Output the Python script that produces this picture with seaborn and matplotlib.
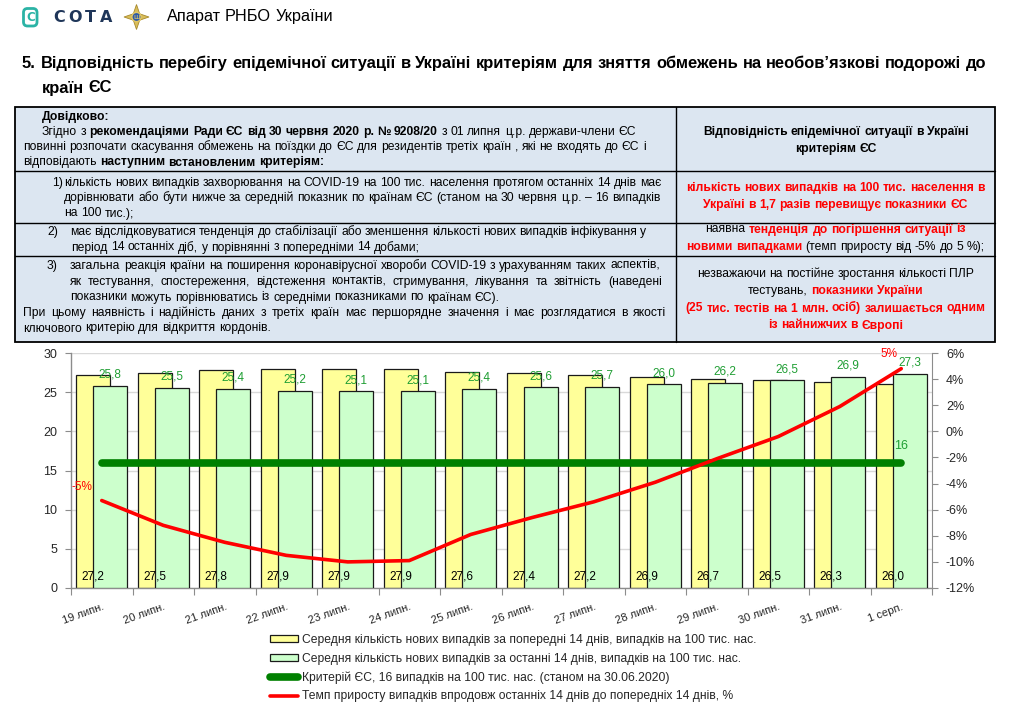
import numpy as np
import pandas as pd
import matplotlib
matplotlib.use("Agg")
import matplotlib.pyplot as plt
import seaborn as sns
from matplotlib.patches import Rectangle, FancyBboxPatch, Polygon, Circle
from matplotlib.ticker import FuncFormatter

# ------------------------------------------------------------------ data
dates = ["19 липн.", "20 липн.", "21 липн.", "22 липн.", "23 липн.", "24 липн.", "25 липн.",
         "26 липн.", "27 липн.", "28 липн.", "29 липн.", "30 липн.", "31 липн.", "1 серп."]
prev_14d = [27.2, 27.5, 27.8, 27.9, 27.9, 27.9, 27.6, 27.4, 27.2, 26.9, 26.7, 26.5, 26.3, 26.0]
last_14d = [25.8, 25.5, 25.4, 25.2, 25.1, 25.1, 25.4, 25.6, 25.7, 26.0, 26.2, 26.5, 26.9, 27.3]
eu_criterion = [16, 16, 16, 16, 16, 16, 16, 16, 16, 16, 16, 16, 16, 16]
growth_pct = [-5.3, -7.2, -8.5, -9.5, -10.0, -9.9, -7.9, -6.6, -5.4, -3.9, -2.1, -0.4, 1.9, 4.8]
growth_first_label = "-5%"
growth_last_label = "5%"
criterion_label = "16"
legend_labels = [
    "Середня кількість нових випадків за попередні 14 днів, випадків на 100 тис. нас.",
    "Середня кількість нових випадків за останні 14 днів, випадків на 100 тис. нас.",
    "Критерій ЄС, 16 випадків на 100 тис. нас. (станом на 30.06.2020)",
    "Темп приросту випадків впродовж останніх 14 днів до попередніх 14 днів, %",
]

# ------------------------------------------------------------------ setup
W, H = 1013, 713
sns.set_style("ticks")
FONT = ["Liberation Sans", "DejaVu Sans"]
plt.rcParams["font.family"] = FONT

fig = plt.figure(figsize=(W / 100, H / 100), dpi=100)
fig.patch.set_facecolor("white")
bg = fig.add_axes([0, 0, 1, 1])
bg.set_xlim(0, W)
bg.set_ylim(H, 0)
bg.axis("off")
renderer = fig.canvas.get_renderer()

RED = "#FF0000"
_wc = {}


def tw(s, size, bold, family=None):
    key = (s, size, bold, str(family))
    if key not in _wc:
        t = bg.text(0, 0, s, fontsize=size, fontweight="bold" if bold else "normal",
                    family=family or FONT)
        _wc[key] = t.get_window_extent(renderer).width
        t.remove()
    return _wc[key]


def space_w(size, bold=False):
    return tw("x x", size, bold) - tw("xx", size, bold)


def toks(segs):
    out = []
    for text, st in segs:
        for w in text.split():
            out.append((w, st))
    return out


def natural_width(segs, size):
    tk = toks(segs)
    return sum(tw(w, size, st != "n") for w, st in tk) + space_w(size) * (len(tk) - 1)


def rich(x, y, segs, size, mode="left", right=None):
    tk = toks(segs)
    ws = [tw(w, size, st != "n") for w, st in tk]
    sp = space_w(size)
    total = sum(ws) + sp * (len(tk) - 1)
    gap = sp
    if mode == "center":
        x0 = x - total / 2
    elif mode == "justify" and len(tk) > 1:
        x0 = x
        gap = (right - x - sum(ws)) / (len(tk) - 1)
    else:
        x0 = x
    cx = x0
    for (w, st), wd in zip(tk, ws):
        bg.text(cx, y, w, fontsize=size, fontweight="normal" if st == "n" else "bold",
                color=RED if st == "r" else "black", va="baseline", ha="left", family=FONT)
        cx += wd + gap


# ------------------------------------------------------------------ header
bg.add_patch(FancyBboxPatch((23.5, 8.5), 13.5, 17.5, boxstyle="round,pad=0,rounding_size=4",
                            fill=False, edgecolor="#2bb3a5", lw=2.0))
bg.text(30.3, 17.5, "С", fontsize=8.5, fontweight="bold", color="#2bb3a5",
        ha="center", va="center", family=["DejaVu Sans"])
letters = "СОТА"
lsz = 11.5
lw_ = [tw(c, lsz, True, ["DejaVu Sans"]) for c in letters]
lgap = (59 - sum(lw_)) / 3
cx = 53
for c, wd in zip(letters, lw_):
    bg.text(cx, 22.5, c, fontsize=lsz, fontweight="bold", color="#1f3659",
            ha="left", va="baseline", family=["DejaVu Sans"])
    cx += wd + lgap
# emblem
ccx, ccy = 136.5, 17
pts = []
for k in range(8):
    ang = np.pi / 2 + k * np.pi / 4
    r = 12.5 if k % 2 == 0 else 4.5
    pts.append((ccx + r * np.cos(ang), ccy - r * np.sin(ang)))
bg.add_patch(Polygon(pts, closed=True, facecolor="#d8bd5a", edgecolor="#a8892c", lw=0.6))
bg.add_patch(Circle((ccx, ccy), 4.6, facecolor="#2d59a8", edgecolor="#e2c766", lw=1.0))
bg.text(ccx, ccy + 0.3, "ш", fontsize=5, color="#f0d36a", ha="center", va="center",
        family=["DejaVu Sans"])
hs = 10 * 166 / natural_width([("Апарат РНБО України", "n")], 10)
rich(166.5, 21, [("Апарат РНБО України", "n")], hs)

# ------------------------------------------------------------------ title
t1 = [("5. Відповідність перебігу епідемічної ситуації в Україні критеріям для зняття "
       "обмежень на необов’язкові подорожі до", "b")]
ts = 10 * 971 / natural_width(t1, 10)
rich(22, 68, t1, ts)
rich(42, 92.5, [("країн ЄС", "b")], ts)

# ------------------------------------------------------------------ table
TL, TR, TT, TB, TC = 15, 995, 107, 342, 676
bg.add_patch(Rectangle((TL, TT), TR - TL, TB - TT, facecolor="#dce6f1",
                       edgecolor="black", lw=1.3, zorder=0))
for yy in (171, 223, 255.5):
    bg.plot([TL, TR], [yy, yy], color="black", lw=1.0, zorder=1)
bg.plot([TC, TC], [TT, TB], color="black", lw=1.0, zorder=1)

ref_line = [("повинні розпочати скасування обмежень на поїздки до ЄС для резидентів третіх "
             "країн , які не входять до ЄС і", "n")]
fs = 10 * 623 / natural_width(ref_line, 10)

left_lines = [
    (42, 120, [("Довідково:", "b")], "left", None),
    (42, 135, [("Згідно з", "n"), ("рекомендаціями Ради ЄС від 30 червня 2020 р. № 9208/20", "b"),
               ("з 01 липня ц.р. держави-члени ЄС", "n")], "left", None),
    (23, 150, ref_line, "left", None),
    (23, 165.5, [("відповідають", "n"), ("наступним встановленим критеріям:", "b")], "left", None),
    (52, 186, [("1)", "n")], "left", None),
    (64, 186, [("кількість нових випадків захворювання на COVID-19 на 100 тис. населення "
                "протягом останніх 14 днів має", "n")], "justify", 661.5),
    (64, 201, [("дорівнювати або бути нижче за середній показник по країнам ЄС (станом на "
                "30 червня ц.р. – 16 випадків", "n")], "justify", 660),
    (64, 216.5, [("на 100 тис.);", "n")], "left", None),
    (47, 235, [("2)", "n")], "left", None),
    (70, 235, [("має відслідковуватися тенденція до стабілізації або зменшення кількості нових "
                "випадків інфікування у", "n")], "justify", 646.5),
    (71, 250.5, [("період 14 останніх діб, у порівнянні з попередніми 14 добами;", "n")],
     "left", None),
    (47, 269, [("3)", "n")], "left", None),
    (70, 269, [("загальна реакція країни на поширення коронавірусної хвороби COVID-19 з "
                "урахуванням таких аспектів,", "n")], "justify", 660),
    (70, 285, [("як тестування, спостереження, відстеження контактів, стримування, лікування "
                "та звітність (наведені", "n")], "justify", 661.5),
    (70, 300.5, [("показники можуть порівнюватись із середніми показниками по країнам ЄС).", "n")],
     "left", None),
    (23, 316, [("При цьому наявність і надійність даних з третіх країн має першорядне значення "
                "і має розглядатися в якості", "n")], "justify", 666),
    (23, 331.5, [("ключового критерію для відкриття кордонів.", "n")], "left", None),
]
for x, y, segs, mode, right in left_lines:
    rich(x, y, segs, fs, mode, right)

RC = (TC + TR) / 2
right_lines = [
    (135, [("Відповідність епідемічної ситуації в Україні", "b")]),
    (152, [("критеріям ЄС", "b")]),
    (191, [("кількість нових випадків на 100 тис. населення в", "r")]),
    (208, [("Україні в 1,7 разів перевищує показники ЄС", "r")]),
    (232.5, [("наявна", "n"), ("тенденція до погіршення ситуації із", "r")]),
    (250, [("новими випадками", "r"), ("(темп приросту від -5% до 5 %);", "n")]),
    (277, [("незважаючи на постійне зростання кількості ПЛР", "n")]),
    (294, [("тестувань,", "n"), ("показники України", "r")]),
    (311.5, [("(25 тис. тестів на 1 млн. осіб) залишається одним", "r")]),
    (328.5, [("із найнижчих в Європі", "r")]),
]
for y, segs in right_lines:
    rich(RC, y, segs, fs, "center")

# ------------------------------------------------------------------ chart
ax = fig.add_axes([71 / W, (H - 588) / H, (932 - 71) / W, (588 - 353) / H])
idx = np.arange(len(dates))
df = pd.DataFrame({"pos": idx, "prev": prev_14d, "last": last_14d,
                   "crit": eu_criterion, "growth": growth_pct})
off = 0.14
sns.barplot(x=df["pos"] - off, y=df["prev"], native_scale=True, orient="x", width=0.55,
            color="#FFFF99", saturation=1, edgecolor="#1a1a1a", linewidth=0.9,
            errorbar=None, ax=ax, zorder=2)
sns.barplot(x=df["pos"] + off, y=df["last"], native_scale=True, orient="x", width=0.55,
            color="#CCFFCC", saturation=1, edgecolor="#1a1a1a", linewidth=0.9,
            errorbar=None, ax=ax, zorder=3)
sns.lineplot(x=df["pos"], y=df["crit"], color="#008000", linewidth=5.5, ax=ax, zorder=4)

ax.set_xlim(-0.5, len(dates) - 0.5)
ax.set_ylim(0, 30)
ax.set_yticks(range(0, 31, 5))
ax.grid(axis="y", color="#d9d9d9", lw=1)
ax.set_axisbelow(True)
ax.set_xlabel("")
ax.set_ylabel("")
ax.set_xticks(np.arange(-0.5, len(dates), 1))
ax.set_xticklabels([])
ax.set_xticks(idx, minor=True)
ax.set_xticklabels(dates, minor=True, rotation=20, ha="right", rotation_mode="anchor",
                   fontsize=8)
ax.tick_params(axis="x", which="major", length=5, color="#8c8c8c", direction="out")
ax.tick_params(axis="x", which="minor", length=0, pad=10)
ax.tick_params(axis="y", length=4, color="#8c8c8c", labelsize=9, pad=6)
for s in ("top", "right"):
    ax.spines[s].set_visible(False)
for s in ("left", "bottom"):
    ax.spines[s].set_color("#8c8c8c")
    ax.spines[s].set_linewidth(1)

dl = 8.5
for i in idx:
    ax.annotate(f"{prev_14d[i]:.1f}".replace(".", ","), (i - off, 0), xytext=(0, 6),
                textcoords="offset points", ha="center", va="baseline", fontsize=dl,
                color="black", zorder=6)
    ax.annotate(f"{last_14d[i]:.1f}".replace(".", ","), (i + off, last_14d[i]), xytext=(0, 6),
                textcoords="offset points", ha="center", va="baseline", fontsize=dl,
                color="#1f9e33", zorder=6)
ax.annotate(criterion_label, (idx[-1], eu_criterion[-1]), xytext=(0, 9.5),
            textcoords="offset points", ha="center", va="baseline", fontsize=dl + 0.5,
            color="#1f9e33", zorder=6)

ax2 = ax.twinx()
sns.lineplot(x=df["pos"], y=df["growth"], color=RED, linewidth=2.6, ax=ax2)
ax2.set_ylim(-12, 6)
ax2.set_yticks(range(-12, 7, 2))
ax2.yaxis.set_major_formatter(FuncFormatter(lambda v, p: f"{int(round(v))}%"))
ax2.set_ylabel("")
ax2.set_xlabel("")
ax2.tick_params(axis="y", length=4, color="#8c8c8c", labelsize=9, pad=6)
for s in ("top", "left", "bottom"):
    ax2.spines[s].set_visible(False)
ax2.spines["right"].set_color("#8c8c8c")
ax2.annotate(growth_first_label, (idx[0], growth_pct[0]), xytext=(-14, 7.5),
             textcoords="offset points", ha="center", va="baseline", fontsize=dl, color=RED)
ax2.annotate(growth_last_label, (idx[-1], growth_pct[-1]), xytext=(-8.5, 8.5),
             textcoords="offset points", ha="center", va="baseline", fontsize=dl, color=RED,
             annotation_clip=False)
ax.set_xlim(-0.5, len(dates) - 0.5)

# ------------------------------------------------------------------ legend
n = len(dates)
handles = [ax.patches[0], ax.patches[n], ax.lines[0], ax2.lines[0]]
lgs = 10 * 454 / tw(legend_labels[0], 10, False)
fig.legend(handles, legend_labels, loc="upper left",
           bbox_to_anchor=(270 / W, 1 - 634 / H), bbox_transform=fig.transFigure,
           frameon=False, fontsize=lgs, handlelength=2.3, handleheight=0.55,
           handletextpad=0.3, labelspacing=0.55, borderpad=0, borderaxespad=0)

fig.savefig("out.png", dpi=100)
